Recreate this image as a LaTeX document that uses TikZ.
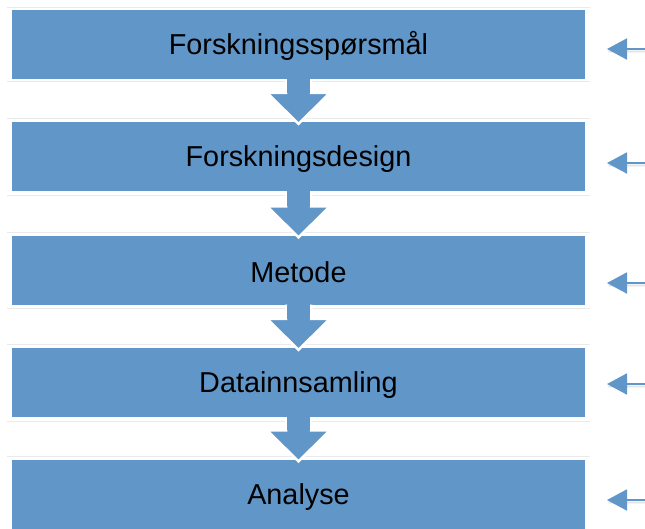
\documentclass[tikz,border=0pt]{standalone}
\usepackage{fontspec}
\setmainfont{Liberation Sans}
\usetikzlibrary{calc,arrows.meta,shadows.blur}
\definecolor{boxblue}{RGB}{97,150,201}
\definecolor{ghost}{RGB}{234,234,234}
\tikzset{
  box/.style={fill=boxblue, draw=none, minimum width=573pt, minimum height=69pt, inner sep=0pt,
    font=\fontsize{28.8}{32}\selectfont, text=black},
  boxtext/.style={font=\fontsize{28.8}{32}\selectfont, text=black, inner sep=0pt},
  ghostline/.style={draw=ghost, line width=1pt},
  downfill/.style={fill=boxblue},
  downedge/.style={draw=white, line width=2.5pt, line join=miter},
  sidearrow/.style={draw=boxblue, line width=2pt, -{Triangle[length=20pt,width=21pt]},
    blur shadow={shadow xshift=1.5pt, shadow yshift=-2.5pt, shadow blur steps=6, shadow opacity=20}}
}
\begin{document}
\begin{tikzpicture}[x=1pt,y=-1pt]
\useasboundingbox (0,0) rectangle (645,528);
\begin{scope}
\clip (0,0) rectangle (645,528);
% ghost frames
\foreach \t/\b in {10/78,121/192,235/305,347/418,459/529}{
  \draw[ghostline] (7,\t-3) -- (590,\t-3);
  \draw[ghostline] (7,\b+3) -- (590,\b+3);
}
\node[box] (b1) at (298.5,44.5) {};
\node[box] (b2) at (298.5,156.5) {};
\node[box] (b3) at (298.5,270) {};
\node[box] (b4) at (298.5,382.5) {};
\node[box] (b5) at (298.5,494) {};
\node[boxtext] (l1) at ($(b1.center)+(0,1.5)$) {Forskningsspørsmål};
\node[boxtext] (l2) at ($(b2.center)+(0,2.5)$) {Forskningsdesign};
\node[boxtext] (l3) at ($(b3.center)+(0,2.5)$) {Metode};
\node[boxtext] (l4) at ($(b4.center)+(0,2.5)$) {Datainnsamling};
\node[boxtext] (l5) at ($(b5.center)+(0,3)$) {Analyse};
% down arrows
\foreach \a/\b in {b1/b2,b2/b3,b3/b4,b4/b5}{
  \coordinate (tip) at ($(\b.north)+(0,2)$);
  \coordinate (top) at (\a.south);
  \fill[downfill] ($(top)+(-12.5,0)$) -- ($(tip)+(-12.5,-31)$) -- ($(tip)+(-31.5,-31)$) -- (tip)
     -- ($(tip)+(31.5,-31)$) -- ($(tip)+(12.5,-31)$) -- ($(top)+(12.5,0)$) -- cycle;
  \draw[downedge] ($(top)+(-12.5,0)$) -- ($(tip)+(-12.5,-31)$) -- ($(tip)+(-31.5,-31)$) -- (tip)
     -- ($(tip)+(31.5,-31)$) -- ($(tip)+(12.5,-31)$) -- ($(top)+(12.5,0)$);
  \fill[downfill] ($(top)+(-11.2,0)$) rectangle ($(tip)+(11.2,-31)$);
}
% side arrows
\foreach \n/\y in {1/49,2/163,3/283,4/384,5/500}{
  \coordinate (s\n) at (647,\y);
  \coordinate (t\n) at (607,\y);
  \draw[sidearrow] (s\n) -- (t\n);
}
\end{scope}
\end{tikzpicture}
\end{document}
